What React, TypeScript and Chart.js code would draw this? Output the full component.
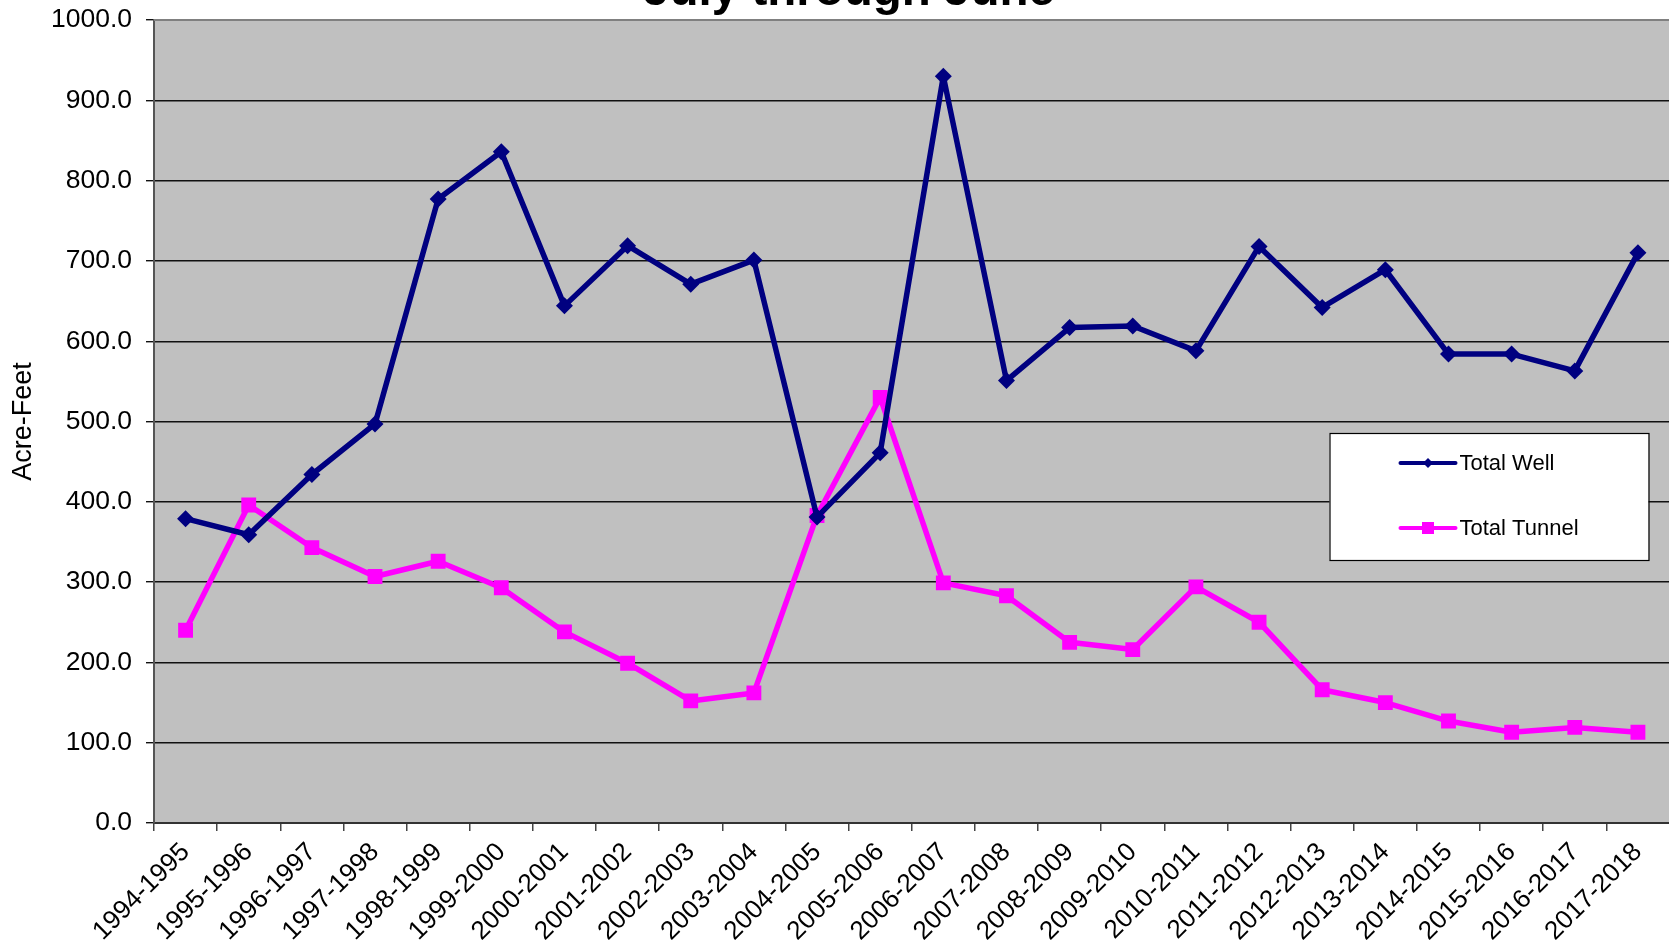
import React, { useEffect, useRef } from "react";
import { Chart, registerables } from "chart.js";

Chart.register(...registerables);

// Water years, July through June
const seasons: string[] = [
  "1994-1995", "1995-1996", "1996-1997", "1997-1998", "1998-1999", "1999-2000",
  "2000-2001", "2001-2002", "2002-2003", "2003-2004", "2004-2005", "2005-2006",
  "2006-2007", "2007-2008", "2008-2009", "2009-2010", "2010-2011", "2011-2012",
  "2012-2013", "2013-2014", "2014-2015", "2015-2016", "2016-2017", "2017-2018",
];

// Acre-feet pumped from wells
const totalWell: number[] = [
  379, 359, 434, 497, 777, 836, 644, 719, 671, 701, 381, 461,
  930, 551, 617, 619, 588, 718, 642, 689, 584, 584, 563, 710,
];

// Acre-feet delivered through the tunnel
const totalTunnel: number[] = [
  240, 396, 343, 307, 326, 293, 238, 199, 152, 162, 383, 530,
  299, 283, 225, 216, 294, 250, 166, 150, 127, 113, 119, 113,
];

const yTicks: number[] = [0, 100, 200, 300, 400, 500, 600, 700, 800, 900, 1000];

const titleText = "July through June";
const yAxisTitle = "Acre-Feet";
const wellLabel = "Total Well";
const tunnelLabel = "Total Tunnel";

const NAVY = "#000080";
const MAGENTA = "#FF00FF";
const FONT = "'Liberation Sans', Arial, Helvetica, sans-serif";

const CANVAS_W = 1680;
const CANVAS_H = 948;

// Grey plot area, its top border, the cut-off title and the axis title
const framePlugin = {
  id: "frame",
  beforeDraw(chart: any) {
    const { ctx, chartArea } = chart;
    ctx.save();
    ctx.fillStyle = "#C0C0C0";
    ctx.fillRect(chartArea.left, chartArea.top, chartArea.right - chartArea.left, chartArea.bottom - chartArea.top);
    ctx.restore();
  },
  afterDraw(chart: any) {
    const { ctx, chartArea } = chart;
    ctx.save();
    // top border of the plot area
    ctx.strokeStyle = "#808080";
    ctx.lineWidth = 2;
    ctx.beginPath();
    ctx.moveTo(chartArea.left, chartArea.top);
    ctx.lineTo(chartArea.right, chartArea.top);
    ctx.stroke();

    // title (only its lower part fits on the page)
    ctx.fillStyle = "#000";
    ctx.font = `bold 47.5px ${FONT}`;
    ctx.textAlign = "center";
    ctx.textBaseline = "alphabetic";
    ctx.fillText(titleText, 849, 5);

    // y axis title
    ctx.font = `27px ${FONT}`;
    ctx.translate(24, (chartArea.top + chartArea.bottom) / 2);
    ctx.rotate(-Math.PI / 2);
    ctx.textAlign = "center";
    ctx.textBaseline = "middle";
    ctx.fillText(yAxisTitle, 0, 0);
    ctx.restore();
  },
};

// Boxed legend inside the plot area
const legendBoxPlugin = {
  id: "legendBox",
  afterDatasetsDraw(chart: any) {
    const { ctx, chartArea } = chart;
    const bx = chartArea.right - 340;
    const by = chartArea.top + 413;
    const bw = 319;
    const bh = 127;
    ctx.save();
    ctx.fillStyle = "#FFFFFF";
    ctx.fillRect(bx, by, bw, bh);
    ctx.strokeStyle = "#000";
    ctx.lineWidth = 1.2;
    ctx.strokeRect(bx + 0.5, by + 0.5, bw, bh);

    const rows = [
      { label: wellLabel, color: NAVY, marker: "diamond", y: by + 30 },
      { label: tunnelLabel, color: MAGENTA, marker: "square", y: by + 95 },
    ];
    const x0 = bx + 71;
    const x1 = bx + 126;
    const mx = (x0 + x1) / 2;
    rows.forEach((r) => {
      ctx.strokeStyle = r.color;
      ctx.fillStyle = r.color;
      ctx.lineWidth = 4;
      ctx.lineCap = "round";
      ctx.beginPath();
      ctx.moveTo(x0, r.y);
      ctx.lineTo(x1, r.y);
      ctx.stroke();
      if (r.marker === "diamond") {
        ctx.beginPath();
        ctx.moveTo(mx, r.y - 5);
        ctx.lineTo(mx + 5, r.y);
        ctx.lineTo(mx, r.y + 5);
        ctx.lineTo(mx - 5, r.y);
        ctx.closePath();
        ctx.fill();
      } else {
        ctx.fillRect(mx - 6, r.y - 6, 12, 12);
      }
      ctx.fillStyle = "#000";
      ctx.font = `22px ${FONT}`;
      ctx.textAlign = "left";
      ctx.textBaseline = "middle";
      ctx.fillText(r.label, x1 + 4, r.y + 1);
    });
    ctx.restore();
  },
};

export default function App() {
  const canvasRef = useRef<HTMLCanvasElement | null>(null);

  useEffect(() => {
    const canvas = canvasRef.current;
    if (!canvas) return;
    const chart = new Chart(canvas, {
      type: "line",
      data: {
        labels: seasons,
        datasets: [
          {
            label: wellLabel,
            data: totalWell,
            borderColor: NAVY,
            backgroundColor: NAVY,
            borderWidth: 5.5,
            borderJoinStyle: "round",
            pointStyle: "rectRot",
            pointRadius: 8.5,
            pointBorderWidth: 0,
            pointBackgroundColor: NAVY,
            tension: 0,
          },
          {
            label: tunnelLabel,
            data: totalTunnel,
            borderColor: MAGENTA,
            backgroundColor: MAGENTA,
            borderWidth: 5.5,
            borderJoinStyle: "round",
            pointStyle: "rect",
            pointRadius: 10.5,
            pointBorderWidth: 0,
            pointBackgroundColor: MAGENTA,
            tension: 0,
          },
        ],
      },
      options: {
        responsive: false,
        animation: false,
        devicePixelRatio: 1,
        layout: { padding: { top: 20, right: 6, left: 0, bottom: 0 } },
        plugins: {
          legend: { display: false },
          title: { display: false },
          tooltip: { enabled: false },
        },
        scales: {
          x: {
            type: "category",
            offset: true,
            grid: {
              offset: true,
              drawOnChartArea: false,
              drawTicks: true,
              tickLength: 8,
              color: "#444",
              lineWidth: 1.5,
            },
            border: { display: true, color: "#333", width: 2 },
            ticks: {
              autoSkip: false,
              minRotation: 45,
              maxRotation: 45,
              color: "#000",
              padding: 6,
              font: { family: FONT, size: 26 },
            },
            afterFit(scale: any) {
              scale.height = 125;
              scale.paddingLeft = 0;
              scale.paddingRight = 0;
            },
          },
          y: {
            min: 0,
            max: 1000,
            afterBuildTicks(scale: any) {
              scale.ticks = yTicks.map((v) => ({ value: v }));
            },
            ticks: {
              color: "#000",
              padding: 14,
              font: { family: FONT, size: 26.5 },
              callback: (v: any) => Number(v).toFixed(1),
            },
            grid: {
              color: "#111",
              lineWidth: 1.4,
              tickLength: 8,
            },
            border: { display: true, color: "#555", width: 2 },
            afterFit(scale: any) {
              scale.width = 154;
              scale.paddingTop = 0;
              scale.paddingBottom = 0;
            },
          },
        },
      },
      plugins: [framePlugin, legendBoxPlugin],
    });
    return () => chart.destroy();
  }, []);

  return (
    <div
      style={{
        position: "absolute",
        left: 0,
        top: 0,
        width: 1669,
        height: 948,
        overflow: "hidden",
        background: "#fff",
      }}
    >
      <canvas ref={canvasRef} width={CANVAS_W} height={CANVAS_H} style={{ display: "block" }} />
    </div>
  );
}
